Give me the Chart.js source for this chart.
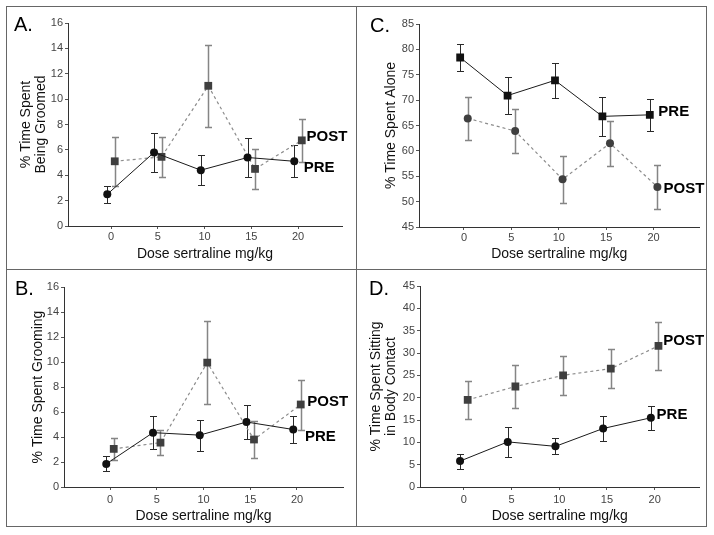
<!DOCTYPE html>
<html>
<head>
<meta charset="utf-8">
<script src="https://cdn.jsdelivr.net/npm/chart.js@4.4.0/dist/chart.umd.min.js"></script>
<style>
  html, body { margin: 0; padding: 0; background: #fff; }
  #page { position: relative; width: 714px; height: 535px; overflow: hidden; }
  .frame { position: absolute; left: 6px; top: 6px; width: 699px; height: 519px; border: 1px solid #666; }
  .vdiv { position: absolute; left: 356px; top: 6px; width: 1px; height: 521px; background: #666; }
  .hdiv { position: absolute; left: 6px; top: 269px; width: 701px; height: 1px; background: #666; }
  canvas { position: absolute; }
  .tag { position: absolute; font: 20px/20px "Liberation Sans", Arial, sans-serif; color: #000; }
</style>
</head>
<body>
<div id="page">
  <div class="frame"></div>
  <div class="vdiv"></div>
  <div class="hdiv"></div>
  <canvas id="panelA" width="348" height="261" style="left:7px;top:7px"></canvas>
  <canvas id="panelC" width="348" height="261" style="left:357px;top:7px"></canvas>
  <canvas id="panelB" width="348" height="255" style="left:7px;top:270px"></canvas>
  <canvas id="panelD" width="348" height="255" style="left:357px;top:270px"></canvas>
  <div class="tag" style="left:14px;top:14px">A.</div>
  <div class="tag" style="left:370px;top:15px">C.</div>
  <div class="tag" style="left:15px;top:278px">B.</div>
  <div class="tag" style="left:369px;top:278px">D.</div>
</div>
<script>
/* ══════════════════════════════════════════════════════════════════════
   DATA — means and SEM
══════════════════════════════════════════════════════════════════════ */
const doses = [0, 5, 10, 15, 20];

// A. % time spent being groomed
const groomedPre = [2.5, 5.8, 4.4, 5.4, 5.1];
const groomedPreErr = [0.65, 1.55, 1.2, 1.55, 1.25];
const groomedPost = [5.1, 5.45, 11.05, 4.5, 6.75];
const groomedPostErr = [1.95, 1.6, 3.25, 1.6, 1.7];

// B. % time spent grooming
const groomingPre = [1.85, 4.35, 4.15, 5.2, 4.6];
const groomingPreErr = [0.6, 1.3, 1.25, 1.35, 1.05];
const groomingPost = [3.05, 3.55, 9.95, 3.8, 6.6];
const groomingPostErr = [0.85, 1.0, 3.3, 1.45, 2.0];

// C. % time spent alone
const alonePre = [78.4, 70.9, 73.9, 66.8, 67.1];
const alonePreErr = [2.6, 3.7, 3.45, 3.8, 3.2];
const alonePost = [66.4, 63.9, 54.4, 61.5, 52.9];
const alonePostErr = [4.2, 4.3, 4.6, 4.4, 4.3];

// D. % time spent sitting in body contact
const contactPre = [5.8, 10.1, 9.1, 13.1, 15.5];
const contactPreErr = [1.7, 3.4, 1.8, 2.8, 2.7];
const contactPost = [19.5, 22.5, 25.0, 26.5, 31.6];
const contactPostErr = [4.2, 4.8, 4.3, 4.3, 5.3];

const FONT = "'Liberation Sans', Arial, sans-serif";
Chart.defaults.font.family = FONT;

function pts(vals, shift) {
  return doses.map((d, i) => ({ x: d + shift, y: vals[i] }));
}

/* ══════════════════════════════════════════════════════════════════════
   PLUGIN — error bars + PRE/POST tags
══════════════════════════════════════════════════════════════════════ */
const errorBars = {
  id: "errorBars",
  beforeDatasetsDraw(chart) {
    const { ctx } = chart;
    const y = chart.scales.y;
    chart.data.datasets.forEach((ds, i) => {
      const meta = chart.getDatasetMeta(i);
      ctx.save();
      ctx.strokeStyle = ds.errColor;
      ctx.lineWidth = ds.errWidth;
      meta.data.forEach((pt, j) => {
        const v = ds.data[j].y;
        const e = ds.errors[j];
        const top = Math.round(y.getPixelForValue(v + e)) + 0.5;
        const bot = Math.round(y.getPixelForValue(v - e)) + 0.5;
        const x = Math.round(pt.x) + 0.5;
        ctx.beginPath();
        ctx.moveTo(x, top);
        ctx.lineTo(x, bot);
        ctx.moveTo(x - 3.5, top);
        ctx.lineTo(x + 3.5, top);
        ctx.moveTo(x - 3.5, bot);
        ctx.lineTo(x + 3.5, bot);
        ctx.stroke();
      });
      ctx.restore();
    });
  },
  afterDatasetsDraw(chart, args, opts) {
    const { ctx } = chart;
    const { x, y } = chart.scales;
    ctx.save();
    ctx.font = "bold 15px " + FONT;
    ctx.fillStyle = "#000";
    ctx.textBaseline = "middle";
    ctx.textAlign = "left";
    (opts.tags || []).forEach((t) =>
      ctx.fillText(t.text, x.getPixelForValue(t.x), y.getPixelForValue(t.y)),
    );
    ctx.restore();
  },
};

/* ══════════════════════════════════════════════════════════════════════
   PANEL BUILDER
══════════════════════════════════════════════════════════════════════ */
function makePanel(id, p) {
  const circle = { pointStyle: "circle", pointRadius: 4 };
  const square = { pointStyle: "rect", pointRadius: 5.5 };
  new Chart(document.getElementById(id), {
    type: "line",
    data: {
      datasets: [
        {
          label: "PRE",
          data: pts(p.pre, -0.4),
          errors: p.preErr,
          errColor: "#2a2a2a",
          errWidth: 1,
          borderColor: "#1a1a1a",
          borderWidth: 1,
          backgroundColor: "#111",
          pointBackgroundColor: "#111",
          pointBorderColor: "#111",
          pointBorderWidth: 0,
          tension: 0,
          ...(p.preSquare ? square : circle),
        },
        {
          label: "POST",
          data: pts(p.post, 0.4),
          errors: p.postErr,
          errColor: "#858585",
          errWidth: 1.5,
          borderColor: "#8c8c8c",
          borderWidth: 1.2,
          borderDash: [3, 3],
          backgroundColor: "#3f3f3f",
          pointBackgroundColor: "#3f3f3f",
          pointBorderColor: "#3f3f3f",
          pointBorderWidth: 0,
          tension: 0,
          ...(p.preSquare ? circle : square),
        },
      ],
    },
    options: {
      responsive: false,
      animation: false,
      devicePixelRatio: 1,
      layout: { padding: { top: p.top, right: p.right, left: 0, bottom: 0 } },
      plugins: {
        legend: { display: false },
        tooltip: { enabled: false },
        errorBars: { tags: p.tags },
      },
      scales: {
        x: {
          type: "linear",
          min: p.xMin,
          max: p.xMax,
          afterBuildTicks: (s) => {
            s.ticks = doses.map((v) => ({ value: v }));
          },
          afterFit: (s) => {
            s.height = p.xH;
          },
          border: { display: true, color: "#333", width: 1 },
          grid: { drawOnChartArea: false, drawTicks: true, tickLength: 3, color: "#555" },
          ticks: { color: "#444", font: { size: 11 }, padding: p.xTickPad, maxRotation: 0 },
          title: {
            display: true,
            text: "Dose sertraline mg/kg",
            color: "#111",
            font: { size: 14 },
            padding: { top: 0, bottom: p.xTitlePad },
          },
        },
        y: {
          min: p.yMin,
          max: p.yMax,
          ticks: { stepSize: p.yStep, color: "#444", font: { size: 11 }, padding: 2 },
          afterFit: (s) => {
            s.width = p.yW;
          },
          border: { display: true, color: "#333", width: 1 },
          grid: { drawOnChartArea: false, drawTicks: true, tickLength: 3, color: "#555" },
          title: {
            display: true,
            text: p.yTitle,
            color: "#111",
            font: { size: 14, lineHeight: 1.1 },
            padding: { top: p.yTitlePad, bottom: 0 },
          },
        },
      },
    },
    plugins: [errorBars],
  });
}

makePanel("panelA", {
  pre: groomedPre, preErr: groomedPreErr, post: groomedPost, postErr: groomedPostErr,
  preSquare: false,
  yMin: 0, yMax: 16, yStep: 2, xMin: -4.6, xMax: 24.7,
  top: 16, right: 13, yW: 61, xH: 42,
  yTitle: ["% Time Spent", "Being Groomed"], yTitlePad: 11.25,
  xTickPad: 1, xTitlePad: 5,
  tags: [{ text: "POST", x: 20.9, y: 7.0 }, { text: "PRE", x: 20.6, y: 4.55 }],
});

makePanel("panelC", {
  pre: alonePre, preErr: alonePreErr, post: alonePost, postErr: alonePostErr,
  preSquare: true,
  yMin: 45, yMax: 85, yStep: 5, xMin: -4.74, xMax: 24.84,
  top: 17, right: 5, yW: 62, xH: 41,
  yTitle: "% Time Spent Alone", yTitlePad: 26.25,
  xTickPad: 1, xTitlePad: 5,
  tags: [{ text: "PRE", x: 20.5, y: 67.7 }, { text: "POST", x: 21.05, y: 52.6 }],
});

makePanel("panelB", {
  pre: groomingPre, preErr: groomingPreErr, post: groomingPost, postErr: groomingPostErr,
  preSquare: false,
  yMin: 0, yMax: 16, yStep: 2, xMin: -4.92, xMax: 24.92,
  top: 17, right: 12, yW: 57, xH: 38,
  yTitle: "% Time Spent Grooming", yTitlePad: 23.25,
  xTickPad: 3, xTitlePad: 0,
  tags: [{ text: "POST", x: 21.1, y: 6.8 }, { text: "PRE", x: 20.85, y: 4.0 }],
});

makePanel("panelD", {
  pre: contactPre, preErr: contactPreErr, post: contactPost, postErr: contactPostErr,
  preSquare: false,
  yMin: 0, yMax: 45, yStep: 5, xMin: -4.6, xMax: 24.7,
  top: 16, right: 5, yW: 63, xH: 38,
  yTitle: ["% Time Spent Sitting", "in Body Contact"], yTitlePad: 11.25,
  xTickPad: 3, xTitlePad: 0,
  tags: [{ text: "POST", x: 20.9, y: 32.7 }, { text: "PRE", x: 20.2, y: 16.1 }],
});
</script>
</body>
</html>
